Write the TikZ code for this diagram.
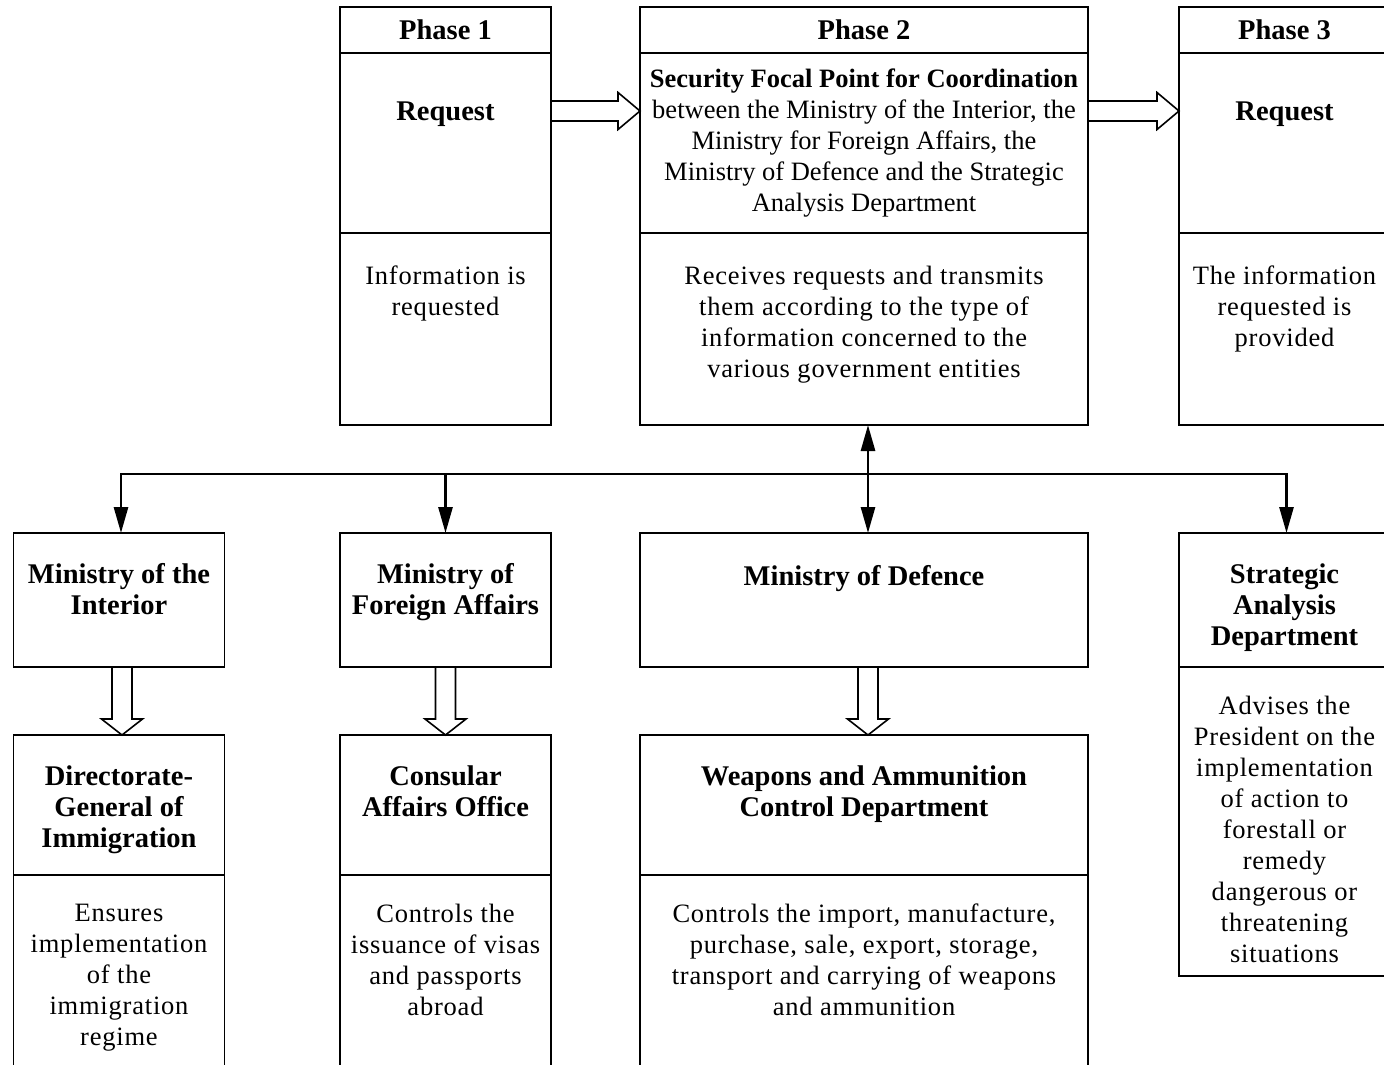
\documentclass[tikz,border=0pt]{standalone}
\usepackage{fontspec}
\setmainfont{Liberation Serif}
\newfontfamily\spacedfont[LetterSpace=3]{Liberation Serif}
\usetikzlibrary{arrows.meta,calc,positioning}

\begin{document}
\begin{tikzpicture}[
    x=1pt, y=-1pt,
    >={Triangle[length=26pt,width=14pt]},
    cell/.style={rectangle, draw=black, line width=1.6pt, inner sep=0pt, outer sep=0pt},
    narrow/.style={minimum width=211pt},
    wide/.style={minimum width=448pt},
    head/.style={cell, minimum height=46pt, font=\fontsize{28.5}{31}\selectfont\bfseries},
    txt/.style={anchor=north, inner sep=0pt, align=center,
                font=\fontsize{26.5}{31}\selectfont, execute at begin node=\strut},
    ttl/.style={txt, font=\fontsize{28.5}{31}\selectfont\bfseries},
    desc/.style={txt, font=\fontsize{26.5}{31}\selectfont\spacedfont},
    link/.style={line width=2.8pt},
    hollow/.style={draw=black, line width=1.6pt, fill=white},
    hright/.style={to path={let \p1=(\tikztostart), \p2=(\tikztotarget) in
        (\x1,\y1+10pt) -- (\x2-22pt,\y1+10pt) -- (\x2-22pt,\y1+18.5pt) -- (\x2,\y1)
        -- (\x2-22pt,\y1-18.5pt) -- (\x2-22pt,\y1-10pt) -- (\x1,\y1-10pt) -- cycle}},
    hdown/.style={to path={let \p1=(\tikztostart), \p2=(\tikztotarget) in
        (\x1-10pt,\y1) -- (\x1-10pt,\y2+16pt) -- (\x1-20.5pt,\y2+16pt) -- (\x1,\y2)
        -- (\x1+20.5pt,\y2+16pt) -- (\x1+10pt,\y2+16pt) -- (\x1+10pt,\y1) -- cycle}},
]
    \useasboundingbox (0,0) rectangle (1384,1065);

    % Phase columns
    \node[head, narrow] (p1head) at (445.5,30) {Phase 1};
    \node[cell, narrow, minimum height=180pt, below=0pt of p1head] (p1title) {};
    \node[cell, narrow, minimum height=192pt, below=0pt of p1title] (p1body) {};
    \node[head, wide] (p2head) at (864,30) {Phase 2};
    \node[cell, wide, minimum height=180pt, below=0pt of p2head] (p2title) {};
    \node[cell, wide, minimum height=192pt, below=0pt of p2title] (p2body) {};
    \node[head, narrow] (p3head) at (1284.5,30) {Phase 3};
    \node[cell, narrow, minimum height=180pt, below=0pt of p3head] (p3title) {};
    \node[cell, narrow, minimum height=192pt, below=0pt of p3title] (p3body) {};

    \node[ttl] (p1req) at ([yshift=-46pt]p1title.north) {Request};
    \node[desc] (p1txt) at ([yshift=-32.5pt]p1body.north) {Information is\\requested};
    \node[txt] (p2req) at ([yshift=-15.3pt]p2title.north)
        {\textbf{Security Focal Point for Coordination}\\between the Ministry of the Interior, the\\Ministry for Foreign Affairs, the\\Ministry of Defence and the Strategic\\Analysis Department};
    \node[desc] (p2txt) at ([yshift=-32.5pt]p2body.north)
        {Receives requests and transmits\\them according to the type of\\information concerned to the\\various government entities};
    \node[ttl] (p3req) at ([yshift=-46pt]p3title.north) {Request};
    \node[desc] (p3txt) at ([yshift=-32.5pt]p3body.north) {The information\\requested is\\provided};

    % Ministries
    \node[cell, narrow, minimum height=134pt] (mint) at (119,600) {};
    \node[cell, narrow, minimum height=134pt] (mfa) at (445.5,600) {};
    \node[cell, wide, minimum height=134pt] (mod) at (864,600) {};
    \node[cell, narrow, minimum height=134pt] (sad) at (1284.5,600) {};
    \node[cell, narrow, minimum height=309pt, below=0pt of sad] (sadbody) {};

    \node[ttl] (mintt) at ([yshift=-30.5pt]mint.north) {Ministry of the\\Interior};
    \node[ttl] (mfat) at ([yshift=-30.5pt]mfa.north) {Ministry of\\Foreign Affairs};
    \node[ttl] (modt) at ([yshift=-30.5pt]mod.north) {Ministry of Defence};
    \node[ttl] (sadt) at ([yshift=-30.5pt]sad.north) {Strategic\\Analysis\\Department};
    \node[desc] (sadtxt) at ([yshift=-28.8pt]sadbody.north)
        {Advises the\\President on the\\implementation\\of action to\\forestall or\\remedy\\dangerous or\\threatening\\situations};

    % Subordinate offices
    \node[cell, narrow, minimum height=140pt] (dgi) at (119,805) {};
    \node[cell, narrow, minimum height=210pt, below=0pt of dgi] (dgibody) {};
    \node[cell, narrow, minimum height=140pt] (cao) at (445.5,805) {};
    \node[cell, narrow, minimum height=210pt, below=0pt of cao] (caobody) {};
    \node[cell, wide, minimum height=140pt] (wac) at (864,805) {};
    \node[cell, wide, minimum height=210pt, below=0pt of wac] (wacbody) {};

    \node[ttl] (dgit) at ([yshift=-30.5pt]dgi.north) {Directorate-\\General of\\Immigration};
    \node[desc] (dgitxt) at ([yshift=-29pt]dgibody.north)
        {Ensures\\implementation\\of the\\immigration\\regime};
    \node[ttl] (caot) at ([yshift=-30.5pt]cao.north) {Consular\\Affairs Office};
    \node[desc] (caotxt) at ([yshift=-29pt]caobody.north)
        {Controls the\\issuance of visas\\and passports\\abroad};
    \node[ttl] (wact) at ([yshift=-30.5pt]wac.north) {Weapons and Ammunition\\Control Department};
    \node[desc] (wactxt) at ([yshift=-29pt]wacbody.north)
        {Controls the import, manufacture,\\purchase, sale, export, storage,\\transport and carrying of weapons\\and ammunition};

    % Hollow arrows between phases
    \coordinate (rowarr) at (0,111);
    \draw[hollow] (p1title.east |- rowarr) to[hright] (p2title.west |- rowarr);
    \draw[hollow] (p2title.east |- rowarr) to[hright] (p3title.west |- rowarr);
    % Hollow arrows down to offices
    \draw[hollow] ([xshift=3pt]mint.south) to[hdown] ([xshift=3pt]dgi.north);
    \draw[hollow] (mfa.south) to[hdown] (cao.north);
    \draw[hollow] ([xshift=4pt]mod.south) to[hdown] ([xshift=4pt]wac.north);

    % Distribution bus
    \coordinate (bus) at (0,474);
    \draw[link, <->] ([xshift=2pt]mint.north) -- ([xshift=2pt]mint.north |- bus)
        -- ([xshift=2pt]sad.north |- bus) -- ([xshift=2pt]sad.north);
    \draw[link, ->] (mfa.north |- bus) -- (mfa.north);
    \draw[link, <->] ([xshift=4pt]p2body.south) -- ([xshift=4pt]mod.north);
\end{tikzpicture}
\end{document}
